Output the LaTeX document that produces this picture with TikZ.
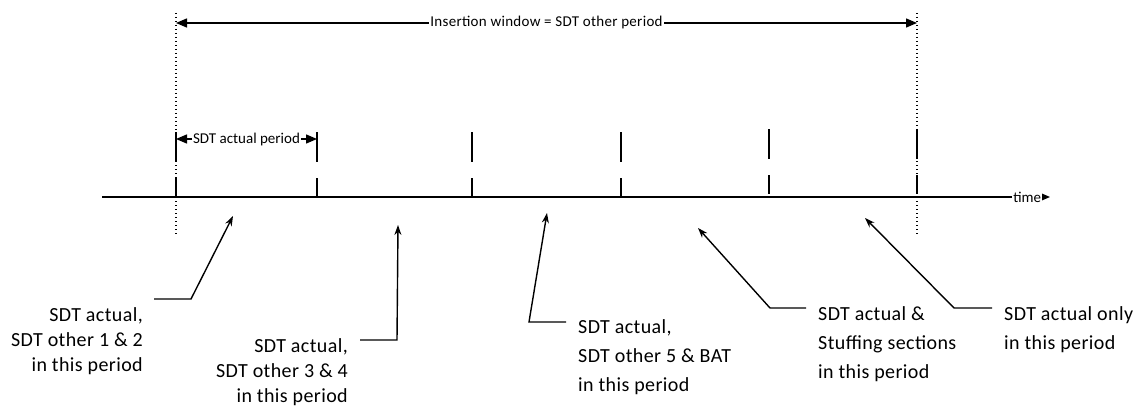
\documentclass[tikz,border=0pt]{standalone}
\usepackage{fontspec}
\setmainfont{Carlito}
\newfontfamily\spaced{Carlito}[LetterSpace=2]
\usetikzlibrary{arrows.meta}

\begin{document}
\begin{tikzpicture}[x=1pt, y=-1pt,
  axisline/.style={line width=1.8pt},
  tickmark/.style={line width=1.8pt},
  guide/.style={line width=1.1pt, dash pattern=on 1.1pt off 2.9pt},
  span/.style={line width=1.3pt, {Triangle[length=11pt,width=9pt]}-{Triangle[length=11pt,width=9pt]}},
  pointer/.style={line width=1.4pt, -{Stealth[length=10pt,width=7pt]}},
  small/.style={font=\fontsize{15}{18}\selectfont, fill=white, inner sep=1pt},
  leftnote/.style={font=\spaced\fontsize{20}{25}\selectfont, align=right, anchor=north east, inner sep=0pt},
  rightnote/.style={font=\spaced\fontsize{20}{29}\selectfont, align=left, anchor=north west, inner sep=0pt}]

  % Parameters
  \def\ya{197} % time axis
  \def\ws{176} % window start
  \def\we{917} % window end

  \useasboundingbox (0,0) rectangle (1138,412);

  % dotted window limits
  \draw[guide] (\ws,13) -- (\ws,235);
  \draw[guide] (\we,13) -- (\we,235);

  % time axis
  \coordinate (t0) at (102,\ya);
  \coordinate (t1) at (1050,\ya);
  \draw[axisline, -{Triangle[length=12pt,width=10pt]}] (t0) -- (t1) node[small, pos=0.976] (time) {time};

  % period marks (two short strokes each)
  \foreach \x/\d in {176/0,317/0,472/0,621/0,769/3,917/3}
    {\draw[tickmark] (\x,132-\d) -- (\x,162-\d); \draw[tickmark] (\x,178-\d) -- (\x,197-\d);}

  % insertion window
  \coordinate (w0) at (\ws,23);
  \coordinate (w1) at (\we,23);
  \draw[span] (w0) -- (w1) node[small, font=\spaced\fontsize{15}{18}\selectfont, midway] (win) {Insertion window = SDT other period};

  % one SDT actual period
  \coordinate (p0) at (\ws,139);
  \coordinate (p1) at (317,139);
  \draw[span] (p0) -- (p1) node[small, midway] (per) {SDT actual period};

  % notes below the axis
  \node[leftnote] (n1) at (143,307.5) {SDT actual,\\SDT other 1 \& 2\\in this period};
  \node[leftnote] (n2) at (348,338.5) {SDT actual,\\SDT other 3 \& 4\\in this period};
  \node[rightnote] (n3) at (578,319) {SDT actual,\\SDT other 5 \& BAT\\in this period};
  \node[rightnote] (n4) at (818,306.5) {SDT actual \&\\Stuffing sections\\in this period};
  \node[rightnote] (n5) at (1004,306.5) {SDT actual only\\in this period};

  % pointers into the periods
  \coordinate (s1) at (154,299); \coordinate (k1) at (191,299); \coordinate (h1) at (233,216);
  \coordinate (s2) at (360,340); \coordinate (k2) at (397,340); \coordinate (h2) at (398,225);
  \coordinate (s3) at (566,322); \coordinate (k3) at (529,322); \coordinate (h3) at (547,213);
  \coordinate (s4) at (806,308); \coordinate (k4) at (770,308); \coordinate (h4) at (698,228);
  \coordinate (s5) at (992,308); \coordinate (k5) at (954,308); \coordinate (h5) at (865,218);
  \foreach \i in {1,...,5}
    {\draw[pointer] (s\i) -- (k\i) -- (h\i);}

\end{tikzpicture}
\end{document}
